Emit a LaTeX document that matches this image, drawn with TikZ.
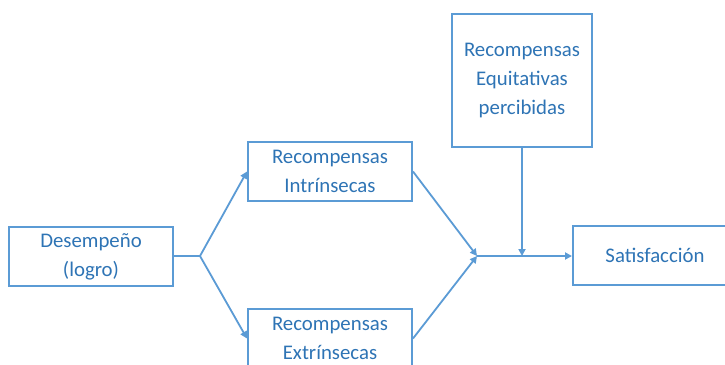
\documentclass[tikz,border=0pt]{standalone}
\usepackage{fontspec}
\setmainfont{Carlito}
\usetikzlibrary{arrows.meta}
\definecolor{boxblue}{HTML}{5B9BD5}
\definecolor{txtblue}{HTML}{2E74B5}
\begin{document}
\begin{tikzpicture}[x=1pt,y=-1pt,
  box/.style={draw=boxblue,line width=2pt,rectangle,inner sep=0pt,
    align=center,text=txtblue,font=\fontsize{20.8}{29}\selectfont},
  conn/.style={draw=boxblue,line width=1.8pt},
  arr/.style={conn,-{Triangle[length=7pt,width=7pt]}}]
\clip (0,0) rectangle (725,364);
\fill[white] (0,0) rectangle (725,364);
\node[box,minimum width=164pt,minimum height=59pt] (des) at (91,256.5) {Desempeño\\(logro)};
\node[box,minimum width=164pt,minimum height=59pt] (intr) at (330,171.5) {Recompensas\\Intrínsecas};
\node[box,minimum width=164pt,minimum height=59pt] (extr) at (330,338.5) {Recompensas\\Extrínsecas};
\node[box,minimum width=140pt,minimum height=133pt] (equi) at (522,80.5) {Recompensas\\Equitativas\\percibidas};
\node[box,minimum width=164pt,minimum height=59pt] (sat) at (655,255.5) {Satisfacción};
\coordinate (br) at (200,256);
\coordinate (mg) at (477,256);
\coordinate (eq) at (522,256);
\draw[conn] (des.east |- br) -- (br);
\draw[arr] (br) -- (intr.west);
\draw[arr] (br) -- (extr.west);
\draw[arr] (intr.east) -- (mg);
\draw[arr] (extr.east) -- (mg);
\draw[arr] (equi.south) -- (eq);
\draw[arr] (mg) -- (sat.west |- mg);
\end{tikzpicture}
\end{document}
